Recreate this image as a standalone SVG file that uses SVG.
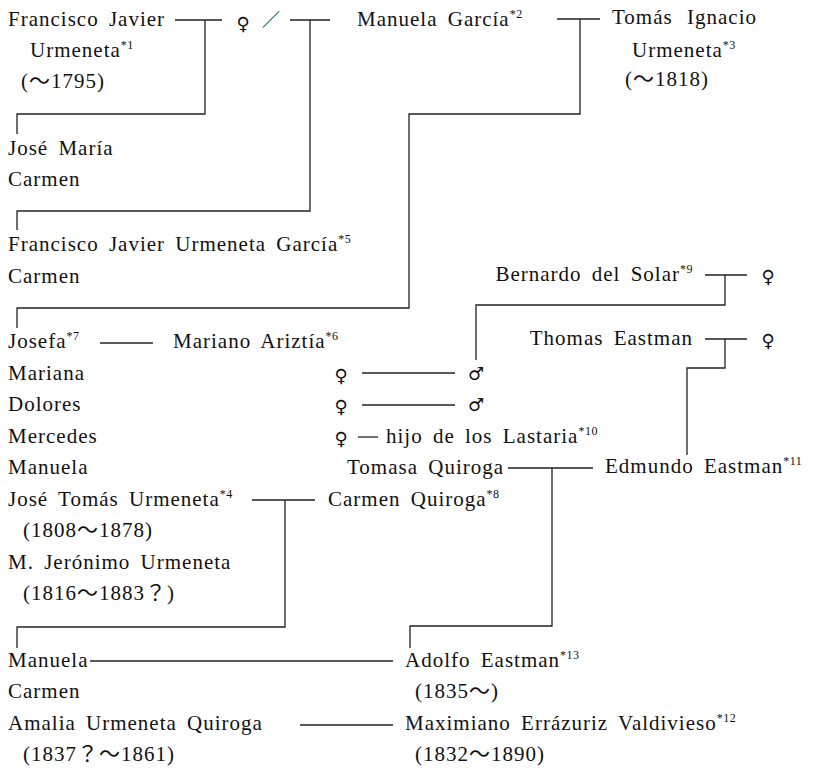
<svg xmlns="http://www.w3.org/2000/svg" width="821" height="768" viewBox="0 0 821 768">
<style>
.t{font-family:"Liberation Serif","Noto Sans CJK JP",serif;font-size:21px;letter-spacing:1px;word-spacing:4px;fill:#111}
.s{font-size:12px;letter-spacing:0.5px;word-spacing:0}
.sym{font-family:"DejaVu Sans",sans-serif;font-size:18px;fill:#111;text-anchor:middle}
.ln{stroke:#222;stroke-width:1.3;fill:none}
</style>
<rect width="821" height="768" fill="#fff"/>
<g id="connectors" class="ln">
<path d="M175,20 H222 M205,20 V114 H17 V134"/>
<path d="M290,20 H330 M310,20 V211 H17 V230"/>
<path d="M557,19 H600 M580,19 V114 H409 V308 H17 V328"/>
<path d="M100,343 H153"/>
<path d="M362,373 H455"/>
<path d="M362,405 H455"/>
<path d="M358,437 H378"/>
<path d="M705,275 H747 M725,275 V305 H476 V360"/>
<path d="M705,339 H747 M725,339 V368 H687 V455"/>
<path d="M508,468 H593 M552,468 V626 H410 V648"/>
<path d="M252,500 H315 M285,500 V627 H17 V648"/>
<path d="M90,661 H393"/>
<path d="M300,725 H393"/>
</g>
<g id="n-fju"><text class="t" x="8" y="26">Francisco Javier</text><text class="t" x="30" y="57">Urmeneta<tspan class="s" dy="-8">*1</tspan></text><text class="t" x="21" y="88">(～1795)</text></g>
<g id="n-unknown1"><text class="sym" x="243" y="30">♀</text><text class="t" x="262" y="26" style="font-family:'Noto Sans CJK JP',sans-serif;font-size:18px">／</text></g>
<g id="n-manuela-garcia"><text class="t" x="357" y="26">Manuela García<tspan class="s" dy="-8">*2</tspan></text></g>
<g id="n-tiu"><text class="t" x="612" y="24">Tomás<tspan x="687">Ignacio</tspan></text><text class="t" x="632" y="57">Urmeneta<tspan class="s" dy="-8">*3</tspan></text><text class="t" x="625" y="86">(～1818)</text></g>
<g id="n-jose-maria"><text class="t" x="8" y="155">José María</text></g>
<g id="n-carmen1"><text class="t" x="8" y="186">Carmen</text></g>
<g id="n-fjug"><text class="t" x="8" y="251">Francisco Javier Urmeneta García<tspan class="s" dy="-8">*5</tspan></text></g>
<g id="n-carmen2"><text class="t" x="8" y="283">Carmen</text></g>
<g id="n-bernardo"><text class="t" x="693" y="281" text-anchor="end">Bernardo del Solar<tspan class="s" dy="-8">*9</tspan></text><text class="sym" x="768" y="283">♀</text></g>
<g id="n-thomas"><text class="t" x="693" y="345" text-anchor="end">Thomas Eastman</text><text class="sym" x="768" y="347">♀</text></g>
<g id="n-josefa"><text class="t" x="8" y="348">Josefa<tspan class="s" dy="-8">*7</tspan></text></g>
<g id="n-mariano"><text class="t" x="173" y="348">Mariano Ariztía<tspan class="s" dy="-8">*6</tspan></text></g>
<g id="n-mariana"><text class="t" x="8" y="380">Mariana</text><text class="sym" x="341" y="382">♀</text><text class="sym" x="476" y="380">♂</text></g>
<g id="n-dolores"><text class="t" x="8" y="411">Dolores</text><text class="sym" x="341" y="413">♀</text><text class="sym" x="476" y="411">♂</text></g>
<g id="n-mercedes"><text class="t" x="8" y="443">Mercedes</text><text class="sym" x="341" y="445">♀</text></g>
<g id="n-lastaria"><text class="t" x="386" y="443">hijo de los Lastaria<tspan class="s" dy="-8">*10</tspan></text></g>
<g id="n-manuela1"><text class="t" x="8" y="474">Manuela</text></g>
<g id="n-tomasa"><text class="t" x="347" y="474">Tomasa Quiroga</text></g>
<g id="n-edmundo"><text class="t" x="605" y="473">Edmundo Eastman<tspan class="s" dy="-8">*11</tspan></text></g>
<g id="n-jtu"><text class="t" x="8" y="506">José Tomás Urmeneta<tspan class="s" dy="-8">*4</tspan></text><text class="t" x="23" y="537">(1808～1878)</text></g>
<g id="n-carmen-q"><text class="t" x="328" y="506">Carmen Quiroga<tspan class="s" dy="-8">*8</tspan></text></g>
<g id="n-mju"><text class="t" x="8" y="569">M. Jerónimo Urmeneta</text><text class="t" x="23" y="600">(1816～1883？)</text></g>
<g id="n-manuela2"><text class="t" x="8" y="667">Manuela</text></g>
<g id="n-adolfo"><text class="t" x="405" y="667">Adolfo Eastman<tspan class="s" dy="-8">*13</tspan></text><text class="t" x="415" y="698">(1835～)</text></g>
<g id="n-carmen3"><text class="t" x="8" y="698">Carmen</text></g>
<g id="n-amalia"><text class="t" x="8" y="730">Amalia Urmeneta Quiroga</text><text class="t" x="23" y="761">(1837？～1861)</text></g>
<g id="n-maximiano"><text class="t" x="405" y="730">Maximiano Errázuriz Valdivieso<tspan class="s" dy="-8">*12</tspan></text><text class="t" x="415" y="761">(1832～1890)</text></g>
</svg>
